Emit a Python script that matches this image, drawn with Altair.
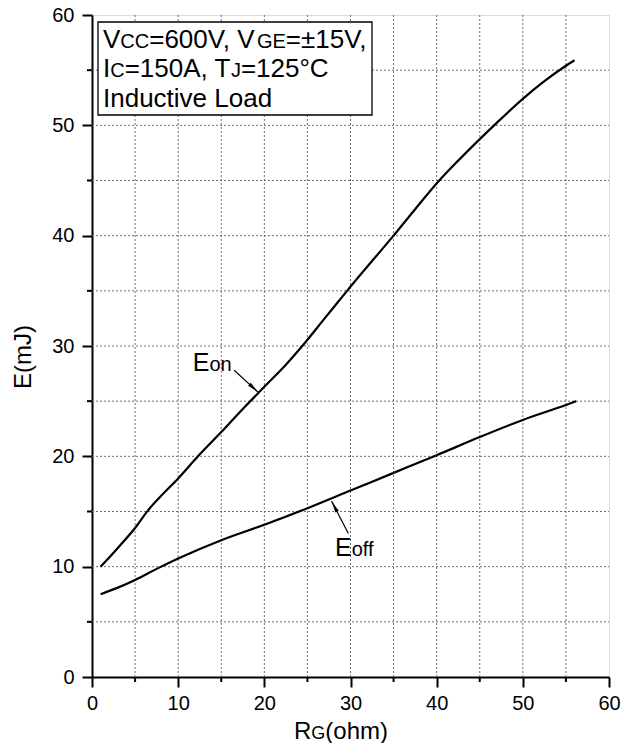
import math
import altair as alt
import pandas as pd

# ---------------- data ----------------
rg_on = [1, 3, 5, 6.5, 8, 10, 12.3, 15, 17.5, 20, 22.5, 24.4, 27, 29.6, 32.5,
         35, 37.5, 40.3, 42.5, 45, 47, 50, 52.5, 55, 56]
e_on = [10.0, 11.7, 13.5, 15.1, 16.4, 18.0, 20.0, 22.2, 24.3, 26.3, 28.3, 30.0,
        32.5, 35.0, 37.7, 40.0, 42.4, 45.0, 46.8, 48.75, 50.25, 52.4, 54.0, 55.4, 55.9]
rg_off = [1, 3, 5, 7.5, 10, 15, 20, 25, 30, 35, 40, 45, 50, 55, 56.2]
e_off = [7.5, 8.1, 8.8, 9.8, 10.74, 12.4, 13.8, 15.3, 16.9, 18.5, 20.1, 21.75,
         23.3, 24.65, 25.0]

x_major = [0, 10, 20, 30, 40, 50, 60]
y_major = [0, 10, 20, 30, 40, 50, 60]
minor = [5, 15, 25, 35, 45, 55]
grid_vals = [5, 10, 15, 20, 25, 30, 35, 40, 45, 50, 55]

# annotation arrows (tail -> tip, data units)
arrow_on = [(16.5, 27.8), (19.3, 25.8)]
arrow_off = [(29.75, 13.0), (27.8, 15.95)]

# ---------------- layout ----------------
W, H = 517, 662
FONT = "Liberation Sans"
BIG, SMALL = 26, 20

ARIAL = {
    "V": 667, "C": 722, "=": 584, "6": 556, "0": 556, ",": 278, " ": 278, "G": 778,
    "E": 667, "±": 584, "1": 556, "5": 556, "I": 278, "A": 667, "T": 611, "J": 500,
    "2": 556, "°": 400, "L": 556, "o": 556, "a": 556, "d": 556, "n": 556, "u": 556,
    "c": 500, "t": 278, "i": 222, "v": 500, "e": 556, "f": 278, "R": 722, "(": 333,
    "h": 556, "m": 833, ")": 333,
}


def width(text, size):
    return sum(ARIAL.get(ch, 556) for ch in text) * size / 1000.0


def segments(parts, x0, y0):
    rows = []
    x = x0
    for text, size in parts:
        rows.append({"t": text, "px": x, "py": y0, "fs": size})
        x += width(text, size)
    return rows


text_rows = []
text_rows += segments([("V", BIG), ("CC", SMALL), ("=600V, V", BIG), ("GE", SMALL), ("=±15V,", BIG)], 11, 32.5)
text_rows += segments([("I", BIG), ("C", SMALL), ("=150A, T", BIG), ("J", SMALL), ("=125°C", BIG)], 11, 62.0)
text_rows += segments([("Inductive Load", BIG)], 11, 91.5)
text_rows += segments([("E", 25), ("on", 20)], 100.7, 355.5)
text_rows += segments([("E", 25), ("off", 20)], 243, 541)
text_rows += segments([("R", 24), ("G", 18), ("(ohm)", 24)], 202, 723.5)
text_df = pd.DataFrame(text_rows)

curves = pd.DataFrame(
    [{"RG": a, "E": b, "s": "Eon"} for a, b in zip(rg_on, e_on)]
    + [{"RG": a, "E": b, "s": "Eoff"} for a, b in zip(rg_off, e_off)]
)

xscale = alt.Scale(domain=[0, 60], nice=False, zero=False)
yscale = alt.Scale(domain=[0, 60], nice=False, zero=False)
xaxis = alt.Axis(values=x_major, title=None, grid=False, tickSize=10, tickWidth=2,
                 domainWidth=2, domainColor="black", tickColor="black",
                 labelFont=FONT, labelFontSize=20, labelColor="black", labelPadding=6,
                 labelFlush=False, labelOverlap=False)
yaxis = alt.Axis(values=y_major, title=None, grid=False, tickSize=10, tickWidth=2,
                 domainWidth=2, domainColor="black", tickColor="black",
                 labelFont=FONT, labelFontSize=20, labelColor="black", labelPadding=8,
                 labelFlush=False, labelOverlap=False)


def X(field):
    return alt.X(field, type="quantitative", scale=xscale, axis=xaxis)


def Y(field):
    return alt.Y(field, type="quantitative", scale=yscale, axis=yaxis)


grid_df = pd.DataFrame({"g": grid_vals})
minor_df = pd.DataFrame({"v": minor})

grid_x = alt.Chart(grid_df).mark_rule(color="#6e6e6e", strokeDash=[2, 2], strokeWidth=1).encode(
    x=X("g"), y=alt.value(0), y2=alt.value(H))
grid_y = alt.Chart(grid_df).mark_rule(color="#6e6e6e", strokeDash=[2, 2], strokeWidth=1).encode(
    y=Y("g"), x=alt.value(0), x2=alt.value(W))

minor_x = alt.Chart(minor_df).mark_rule(color="black", strokeWidth=2).encode(
    x=X("v"), y=alt.value(H), y2=alt.value(H + 5))
minor_y = alt.Chart(minor_df).mark_rule(color="black", strokeWidth=2).encode(
    y=Y("v"), x=alt.value(0), x2=alt.value(-5))

lines = alt.Chart(curves).mark_line(color="black", strokeWidth=2.2, interpolate="monotone").encode(
    x=X("RG"), y=Y("E"), detail="s:N")

box = alt.Chart(pd.DataFrame({"a": [0]})).mark_rect(fill="white", stroke="black", strokeWidth=1.3).encode(
    x=alt.value(6), x2=alt.value(280), y=alt.value(7), y2=alt.value(100))

texts = alt.Chart(text_df).mark_text(align="left", baseline="alphabetic", font=FONT, color="black").encode(
    x=alt.X("px:Q", scale=None, axis=None),
    y=alt.Y("py:Q", scale=None, axis=None),
    size=alt.Size("fs:Q", scale=None, legend=None),
    text="t:N",
)

ytitle = alt.Chart(pd.DataFrame({"t": ["E(mJ)"]})).mark_text(
    angle=270, align="center", baseline="middle", font=FONT, fontSize=24, color="black"
).encode(x=alt.value(-68), y=alt.value(342), text="t:N")

# arrows
sx, sy = W / 60.0, H / 60.0
arrow_rows = []
head_rows = []
for name, ((x0, y0), (x1, y1)) in [("on", arrow_on), ("off", arrow_off)]:
    arrow_rows.append({"g": name, "x": x0, "y": y0})
    arrow_rows.append({"g": name, "x": x1, "y": y1})
    dx, dy = (x1 - x0) * sx, -(y1 - y0) * sy
    ang = math.degrees(math.atan2(dx, -dy)) % 360
    head_rows.append({"x": x1, "y": y1, "ang": ang})

arrow_lines = alt.Chart(pd.DataFrame(arrow_rows)).mark_line(color="black", strokeWidth=1.2).encode(
    x=X("x"), y=Y("y"), detail="g:N")
heads = alt.Chart(pd.DataFrame(head_rows)).mark_point(
    shape="M0,0L0.32,2L-0.32,2Z", filled=True, color="black", opacity=1, size=144
).encode(x=X("x"), y=Y("y"), angle=alt.Angle("ang:Q", scale=None))

chart = alt.layer(
    grid_x, grid_y, minor_x, minor_y, lines, box, texts, ytitle, arrow_lines, heads
).properties(
    width=W, height=H,
    autosize=alt.AutoSizeParams(type="none"),
    padding={"left": 84, "top": 7, "right": 14, "bottom": 66},
).configure_view(stroke="black", strokeWidth=2).configure(background="white")

chart.save("out.html", embed_options={"renderer": "svg", "actions": False})
